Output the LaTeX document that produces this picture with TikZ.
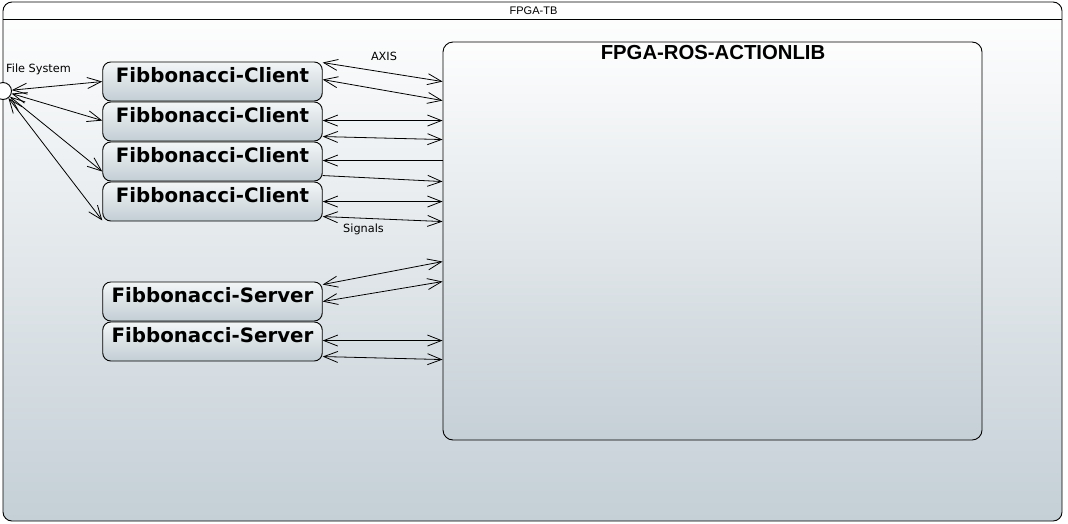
\documentclass[tikz,border=0pt]{standalone}
\usepackage{fontspec}
\setmainfont{DejaVu Sans}
\newfontfamily\libfont{Liberation Sans}
\usetikzlibrary{arrows.meta}
\definecolor{boxtop}{HTML}{F3F6F7}
\definecolor{boxbot}{HTML}{C2CDD4}
\definecolor{frbot}{HTML}{C4CFD6}
\begin{document}
\begin{tikzpicture}[x=1pt,y=-1pt,
  frame/.style={draw=black, line width=0.9pt, rounded corners=9pt, top color=white, bottom color=frbot},
  box/.style={draw=black, line width=0.9pt, rounded corners=8pt, top color=boxtop, bottom color=boxbot,
    minimum width=219.5pt, minimum height=39pt, inner xsep=0pt, inner ysep=0pt,
    text height=20.9pt, text depth=18.1pt, font=\bfseries\fontsize{19.8}{20}\selectfont},
  bigbox/.style={draw=black, line width=0.9pt, rounded corners=10pt, top color=white!97!boxbot, bottom color=boxbot!95!white,
    minimum width=539pt, minimum height=398pt, inner sep=0pt},
  small/.style={font=\fontsize{11.3}{12}\selectfont, inner sep=0pt},
  lnk/.style={line width=0.8pt, draw=black},
  tip/.tip={Straight Barb[length=14pt,width=11pt]},
  both/.style={lnk, tip-tip},
  fwd/.style={lnk, -tip},
  bwd/.style={lnk, tip-},
]
\useasboundingbox (0,0) rectangle (1068,523);
% outer frame
\node[frame, minimum width=1059pt, minimum height=519pt, inner sep=0pt] (tb) at (532.5,261.5) {};
\draw[line width=0.9pt] (tb.west |- 0,19) coordinate (hl) -- (tb.east |- 0,19) coordinate (hr);
\node[inner sep=0pt, font=\libfont\fontsize{11}{11}\selectfont] (tbt) at (533.5,11) {FPGA-TB};

% big box
\node[bigbox] (ros) at (712.5,241) {};
\node[anchor=base, inner sep=0pt, font=\libfont\bfseries\fontsize{20.3}{21}\selectfont] (rost) at (713,59.3) {FPGA-ROS-ACTIONLIB};

% clients and servers
\node[box] (c1) at (212.5,81.5) {Fibbonacci-Client};
\node[box] (c2) at (212.5,121.5) {Fibbonacci-Client};
\node[box] (c3) at (212.5,161.5) {Fibbonacci-Client};
\node[box] (c4) at (212.5,201.5) {Fibbonacci-Client};
\node[box] (s1) at (212.5,301.5) {Fibbonacci-Server};
\node[box] (s2) at (212.5,341.5) {Fibbonacci-Server};

% file system port
\node[circle, draw=black, line width=0.9pt, fill=white, minimum size=17pt, inner sep=0pt] (fs) at (3,91) {};
\node[small, anchor=base west] (fst) at (6,72) {File System};

% file system links
\draw[both] (fs) -- ([yshift=-20pt]c1.north west);
\draw[both] (fs) -- ([yshift=-19pt]c2.north west);
\draw[both] (fs) -- ([yshift=-30pt]c3.north west);
\draw[both] (fs) -- ([yshift=1pt]c4.south west);

% client links
\draw[both] ([yshift=-1pt]c1.north east) -- ([yshift=-40pt]ros.north west);
\draw[both] ([yshift=-18pt]c1.north east) -- ([yshift=-59pt]ros.north west);
\draw[both] ([yshift=-19pt]c2.north east) -- ([yshift=-79pt]ros.north west);
\draw[both] ([yshift=-35pt]c2.north east) -- ([yshift=-98pt]ros.north west);
\draw[bwd] ([yshift=-19pt]c3.north east) -- ([yshift=-119pt]ros.north west);
\draw[fwd] ([yshift=-34pt]c3.north east) -- ([yshift=-140pt]ros.north west);
\draw[both] ([yshift=-20pt]c4.north east) -- ([yshift=-160pt]ros.north west);
\draw[both] ([yshift=-35pt]c4.north east) -- ([yshift=-180pt]ros.north west);

% server links
\draw[both] ([yshift=-3pt]s1.north east) -- ([yshift=-220pt]ros.north west);
\draw[both] ([yshift=-20pt]s1.north east) -- ([yshift=-240pt]ros.north west);
\draw[both] ([yshift=-19pt]s2.north east) -- ([yshift=-299pt]ros.north west);
\draw[both] ([yshift=-35pt]s2.north east) -- ([yshift=-318pt]ros.north west);

% labels
\node[small, anchor=base] (axis) at (384,60.7) {AXIS};
\node[small, anchor=base] (sig) at (363.5,232) {Signals};
\end{tikzpicture}
\end{document}
